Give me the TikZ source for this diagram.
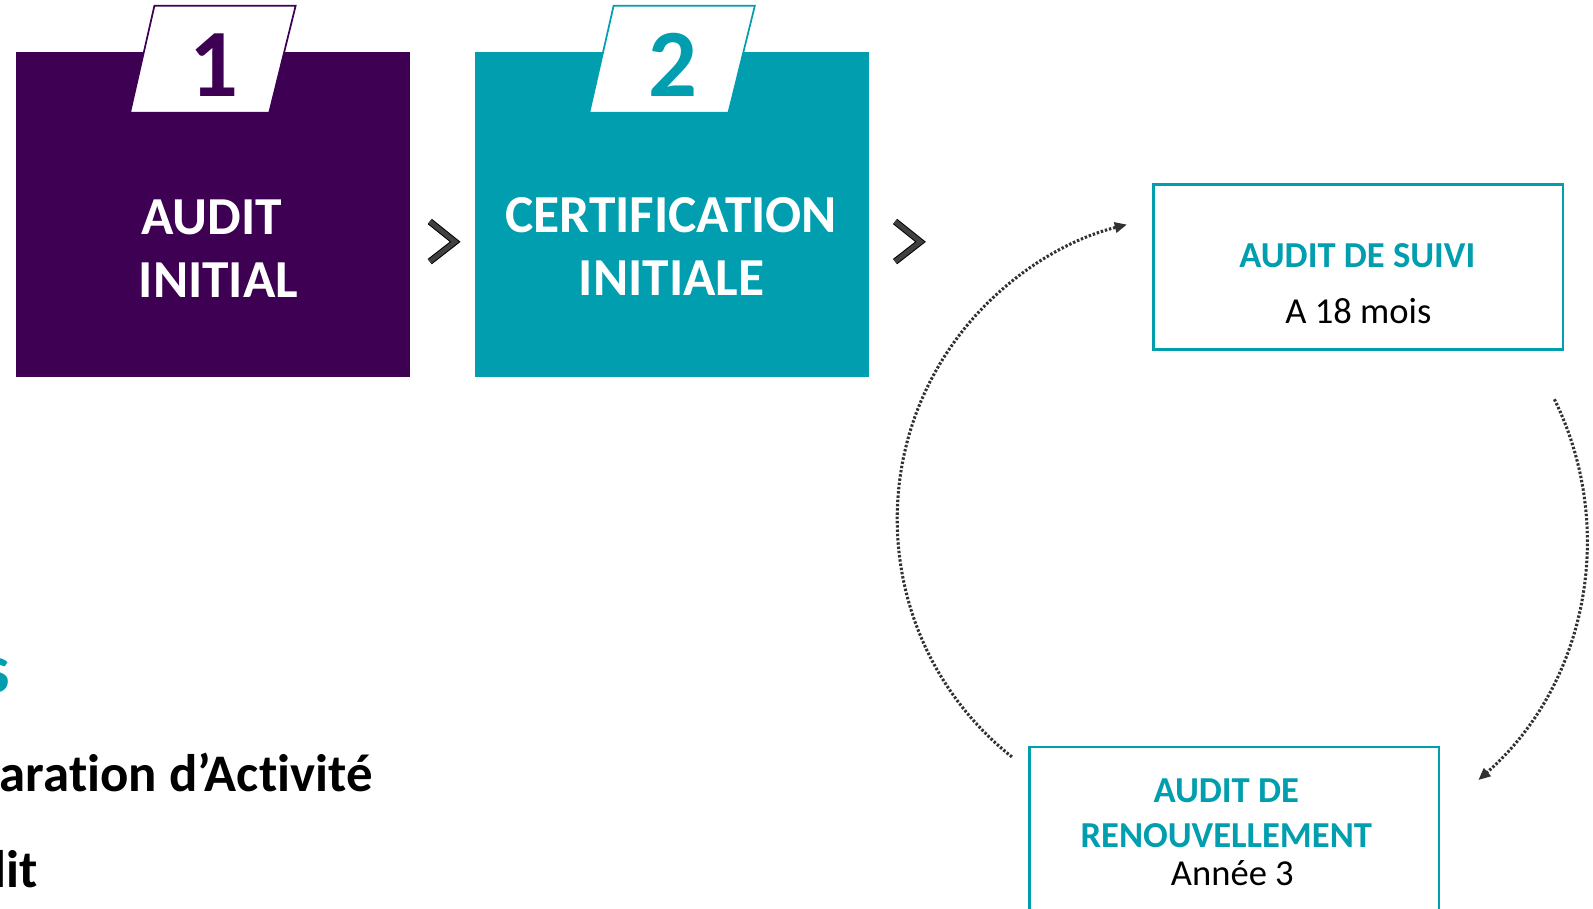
\documentclass[tikz,border=0pt]{standalone}
\usepackage{fontspec}
\setmainfont{Carlito}[Ligatures=NoCommon,RawFeature=-liga]
\usetikzlibrary{arrows.meta}
\definecolor{purp}{RGB}{61,0,82}
\definecolor{tealc}{RGB}{0,158,175}
\definecolor{chevc}{RGB}{64,64,64}
\definecolor{dotc}{RGB}{50,50,50}
\begin{document}
\begin{tikzpicture}[x=0.5pt,y=-0.5pt,
  bigbox/.style={inner sep=0pt, minimum width=194pt, minimum height=160pt, anchor=north west},
  tabshape/.style={fill=white, line width=0.85pt, line join=miter},
  digit/.style={font=\fontsize{47.5}{47.5}\selectfont\bfseries, anchor=base, inner sep=0pt},
  bigtxt/.style={font=\fontsize{26.3}{26.3}\selectfont\bfseries, text=white, anchor=base, inner sep=0pt},
  chevout/.style={draw=black, line width=3.3pt, line join=miter, miter limit=10},
  chevin/.style={draw=chevc, line width=2.3pt, line join=miter, miter limit=10},
  tealbox/.style={draw=tealc, line width=1.3pt, fill=white, inner sep=0pt, anchor=north west},
  headtxt/.style={font=\fontsize{18}{18}\selectfont\bfseries, text=tealc, anchor=base, inner sep=0pt},
  subtxt/.style={font=\fontsize{18}{18}\selectfont, text=black, anchor=base, inner sep=0pt},
  dotline/.style={draw=dotc, line width=1.5pt, dash pattern=on 1.2pt off 0.9pt, -{Triangle[length=6pt,width=5pt]}},
  bodytxt/.style={font=\fontsize{26}{26}\selectfont\bfseries, text=black, anchor=base east, inner sep=0pt},
  headleft/.style={font=\fontsize{34}{34}\selectfont\bfseries, text=tealc, anchor=base east, inner sep=0pt}
]
\useasboundingbox (0,0) rectangle (1568,894.7);
\clip (0,0) rectangle (1568,894.7);

% step 1
\node (box1) [bigbox, fill=purp] at (15,51) {};
\draw[tabshape, draw=purp] (152,5.6) -- (291,5.6) -- (265,111) -- (128,111) -- cycle;
\node (n1) [digit, text=purp] at (211,95.2) {1};
\node (t1a) [bigtxt] at (208.5,231) {AUDIT};
\node (t1b) [bigtxt] at (215,293) {INITIAL};

% step 2
\node (box2) [bigbox, fill=tealc] at (467,51) {};
\draw[tabshape, draw=tealc] (604,5.6) -- (743,5.6) -- (717,111) -- (580,111) -- cycle;
\node (n2) [digit, text=tealc] at (662,95.2) {2};
\node (t2a) [bigtxt] at (660.5,229) {CERTIFICATION};
\node (t2b) [bigtxt] at (661,291) {INITIALE};

% chevrons
\coordinate (c1a) at (423,218);
\coordinate (c1b) at (448,238);
\coordinate (c1c) at (423,257.5);
\draw[chevout] (c1a) -- (c1b) -- (c1c);
\draw[chevin] (c1a) -- (c1b) -- (c1c);
\coordinate (c2a) at (881,218);
\coordinate (c2b) at (906,238);
\coordinate (c2c) at (881,257.5);
\draw[chevout] (c2a) -- (c2b) -- (c2c);
\draw[chevin] (c2a) -- (c2b) -- (c2c);

% cycle boxes
\node (suivi) [tealbox, minimum width=201.5pt, minimum height=81.5pt] at (1134,180) {};
\node (s1) [headtxt] at (1336,263) {AUDIT DE SUIVI};
\node (s2) [subtxt] at (1337,318) {A 18 mois};

\node (renouv) [tealbox, minimum width=201.5pt, minimum height=100pt] at (1012,734) {};
\node (r1) [headtxt] at (1207,790) {AUDIT DE};
\node (r2) [headtxt] at (1207,834) {RENOUVELLEMENT};
\node (r3) [subtxt] at (1213,872) {Année 3};

% dotted cycle arcs
\coordinate (la) at (996,745);
\draw[dotline] (la) arc[start angle=231.5, end angle=104.1, radius=149.5pt];
\coordinate (ra) at (1530,393);
\draw[dotline] (ra) arc[start angle=26.1, end angle=-48.7, radius=157.35pt];

% left bottom text (cut off at the left edge, as in the reference)
\node (h1) [headleft] at (10.5,682) {s};
\node (b1) [bodytxt] at (367,779) {aration d’Activité};
\node (b2) [bodytxt] at (38,874) {lit};
\end{tikzpicture}
\end{document}
